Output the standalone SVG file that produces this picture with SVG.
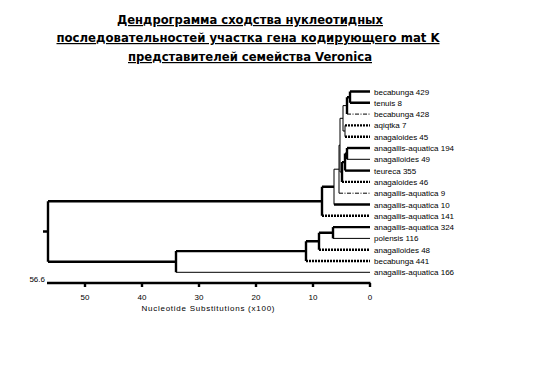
<svg xmlns="http://www.w3.org/2000/svg" width="536" height="371" viewBox="0 0 536 371">
<style>
.title{font-family:"DejaVu Sans",Verdana,sans-serif;font-weight:bold;font-size:12px;text-decoration:underline;fill:#000}
.lbl{font-family:"Liberation Sans",Arial,sans-serif;font-size:8px;fill:#000}
.ax{font-family:"Liberation Sans",Arial,sans-serif;font-size:8px;fill:#000}
.k{stroke:#000;stroke-width:2.4;fill:none}
.t{stroke:#000;stroke-width:1;fill:none}
.d{stroke:#000;stroke-width:2.4;fill:none;stroke-dasharray:2 1}
.dd{stroke:#000;stroke-width:1;fill:none;stroke-dasharray:4 1.5 1 1.5}
</style>
<rect width="536" height="371" fill="#fff"/>
<g id="title">
<text class="title" x="250" y="24" text-anchor="middle" textLength="266" lengthAdjust="spacingAndGlyphs">Дендрограмма сходства нуклеотидных</text>
<text class="title" x="248" y="42" text-anchor="middle" textLength="383" lengthAdjust="spacingAndGlyphs">последовательностей участка гена кодирующего mat K</text>
<text class="title" x="250" y="61" text-anchor="middle" textLength="244" lengthAdjust="spacingAndGlyphs">представителей семейства Veronica</text>
</g>
<g id="connectors">
<!-- root -->
<path class="k" d="M43 231.5H48M48 201.3V261.7M48 201.3H322M48 261.7H176"/>
<!-- clade A -->
<path class="k" d="M322 186.8V215.8M322 186.8H334"/>
<path class="t" d="M334 169.2V204.5M334 169.2H339"/>
<path class="t" d="M339 145.2V193.2M339 145.2H340"/>
<path class="t" d="M340 118.3V172M340 118.3H343M340 172H342"/>
<path class="t" d="M343 105.6V131M343 105.6H347M343 131H345"/>
<path class="k" d="M347 97.2V114.1M347 97.2H350"/>
<path class="k" d="M350 91.5V102.8"/>
<path class="t" d="M345 125.4V136.7"/>
<path class="k" d="M342 162.1V181.9M342 162.1H345"/>
<path class="k" d="M345 153.6V170.6M345 153.6H347"/>
<path class="k" d="M347 148V159.3"/>
<!-- clade B -->
<path class="k" d="M176 251.1V272.3M176 251.1H306"/>
<path class="k" d="M306 241.2V261M306 241.2H319"/>
<path class="k" d="M319 232.7V249.7M319 232.7H333"/>
<path class="k" d="M333 227.1V238.4"/>
<!-- leaves -->
<path class="k" d="M350 91.5H370M350 102.8H370"/>
<path class="dd" d="M347 114.1H370"/>
<path class="d" d="M345 125.4H370M345 136.7H370"/>
<path class="k" d="M347 148H370"/>
<path class="t" d="M347 159.3H370"/>
<path class="k" d="M345 170.6H370"/>
<path class="d" d="M342 181.9H370"/>
<path class="dd" d="M339 193.2H370"/>
<path class="k" d="M334 204.5H370"/>
<path class="d" d="M322 215.8H370"/>
<path class="k" d="M333 227.1H370"/>
<path class="t" d="M333 238.4H370"/>
<path class="d" d="M319 249.7H370"/>
<path class="d" d="M306 261H370"/>
<path class="t" d="M176 272.3H370"/>
</g>
<g id="leaf1"><text class="lbl" x="374" y="94.5">becabunga 429</text></g>
<g id="leaf2"><text class="lbl" x="374" y="105.8">tenuis 8</text></g>
<g id="leaf3"><text class="lbl" x="374" y="117.1">becabunga 428</text></g>
<g id="leaf4"><text class="lbl" x="374" y="128.4">aqiqtka 7</text></g>
<g id="leaf5"><text class="lbl" x="374" y="139.7">anagaloides 45</text></g>
<g id="leaf6"><text class="lbl" x="374" y="151">anagallis-aquatica 194</text></g>
<g id="leaf7"><text class="lbl" x="374" y="162.3">anagalloides 49</text></g>
<g id="leaf8"><text class="lbl" x="374" y="173.6">teureca 355</text></g>
<g id="leaf9"><text class="lbl" x="374" y="184.9">anagaloides 46</text></g>
<g id="leaf10"><text class="lbl" x="374" y="196.2">anagallis-aquatica 9</text></g>
<g id="leaf11"><text class="lbl" x="374" y="207.5">anagallis-aquatica  10</text></g>
<g id="leaf12"><text class="lbl" x="374" y="218.8">anagallis-aquatica 141</text></g>
<g id="leaf13"><text class="lbl" x="374" y="230.1">anagallis-aquatica 324</text></g>
<g id="leaf14"><text class="lbl" x="374" y="241.4">polensis 116</text></g>
<g id="leaf15"><text class="lbl" x="374" y="252.7">anagalloides 48</text></g>
<g id="leaf16"><text class="lbl" x="374" y="264">becabunga 441</text></g>
<g id="leaf17"><text class="lbl" x="374" y="275.3">anagallis-aquatica 166</text></g>
<g id="axis">
<path class="k" d="M47 283H370.5"/>
<path class="k" d="M85 283V287M142 283V287M199 283V287M256 283V287M313 283V287M370 283V287"/>
<text class="ax" x="45" y="282" text-anchor="end">56.6</text>
<text class="ax" x="85" y="300" text-anchor="middle">50</text>
<text class="ax" x="142" y="300" text-anchor="middle">40</text>
<text class="ax" x="199" y="300" text-anchor="middle">30</text>
<text class="ax" x="256" y="300" text-anchor="middle">20</text>
<text class="ax" x="313" y="300" text-anchor="middle">10</text>
<text class="ax" x="370" y="300" text-anchor="middle">0</text>
<text class="ax" x="208" y="311" text-anchor="middle" textLength="133" lengthAdjust="spacing">Nucleotide Substitutions (x100)</text>
</g>
</svg>
